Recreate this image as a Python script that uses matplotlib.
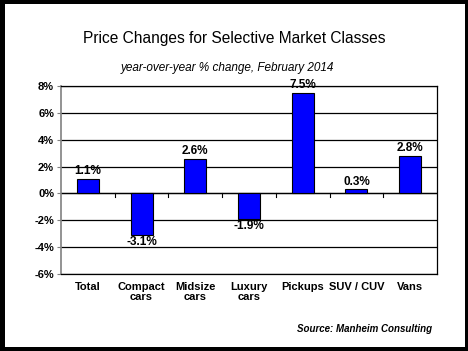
import matplotlib.pyplot as plt
from matplotlib.patches import Rectangle

categorias = ["Total", "Compact\ncars", "Midsize\ncars", "Luxury\ncars",
              "Pickups", "SUV / CUV", "Vans"]
valores = [1.1, -3.1, 2.6, -1.9, 7.5, 0.3, 2.8]
ticks_y = [-6, -4, -2, 0, 2, 4, 6, 8]

plt.rcParams['font.family'] = ['Liberation Sans', 'DejaVu Sans']

fig = plt.figure(figsize=(4.68, 3.51), dpi=100)
fig.patch.set_facecolor("black")
# fondo blanco dentro del marco negro
fig.patches.append(Rectangle((5 / 468, 4 / 351), 460 / 468, 343 / 351,
                             transform=fig.transFigure, facecolor="white",
                             edgecolor="none", zorder=-10))

ax = fig.add_axes([61 / 468, 77 / 351, 376 / 468, 188 / 351])
x = list(range(len(categorias)))
ax.bar(x, valores, width=0.41, color="#0000FF", edgecolor="black",
       linewidth=0.8, zorder=3)

ax.set_xlim(-0.5, len(categorias) - 0.5)
ax.set_ylim(-6, 8)
ax.set_yticks(ticks_y)
ax.set_yticklabels([f"{t}%" for t in ticks_y], fontsize=8, fontweight="bold")
ax.yaxis.grid(True, color="black", linewidth=0.9, zorder=1)
ax.set_axisbelow(True)
ax.tick_params(axis="y", length=3, width=0.8, color="#808080", pad=2)

ax.set_xticks(x)
ax.set_xticklabels(categorias, fontsize=8, fontweight="bold", linespacing=1.0)
ax.tick_params(axis="x", length=0, pad=6)

for lado in ["top", "right", "bottom"]:
    ax.spines[lado].set_color("black")
    ax.spines[lado].set_linewidth(0.9)
ax.spines["left"].set_color("#808080")
ax.spines["left"].set_linewidth(1.2)

# linea del cero con marcas entre categorias
ax.axhline(0, color="black", linewidth=0.9, zorder=2)
for i in range(len(categorias) - 1):
    ax.plot([i + 0.5, i + 0.5], [0, -0.25], color="black", linewidth=0.8, zorder=2)

for xi, v in zip(x, valores):
    if v >= 0:
        ax.text(xi, v + 0.1, f"{v:.1f}%", ha="center", va="bottom",
                fontsize=8.5, fontweight="bold", zorder=4)
    else:
        ax.text(xi, v - 0.1, f"{v:.1f}%", ha="center", va="top",
                fontsize=8.5, fontweight="bold", zorder=4)

fig.text(234 / 468, 1 - 38 / 351, "Price Changes for Selective Market Classes",
         ha="center", va="center", fontsize=11.2)
fig.text(227 / 468, 1 - 68 / 351, "year-over-year % change, February 2014",
         ha="center", va="center", fontsize=8.5, style="italic")
fig.text(432 / 468, 1 - 329 / 351, "Source: Manheim Consulting",
         ha="right", va="center", fontsize=7, style="italic", fontweight="bold")

fig.savefig("out.png", dpi=100, facecolor=fig.get_facecolor())
